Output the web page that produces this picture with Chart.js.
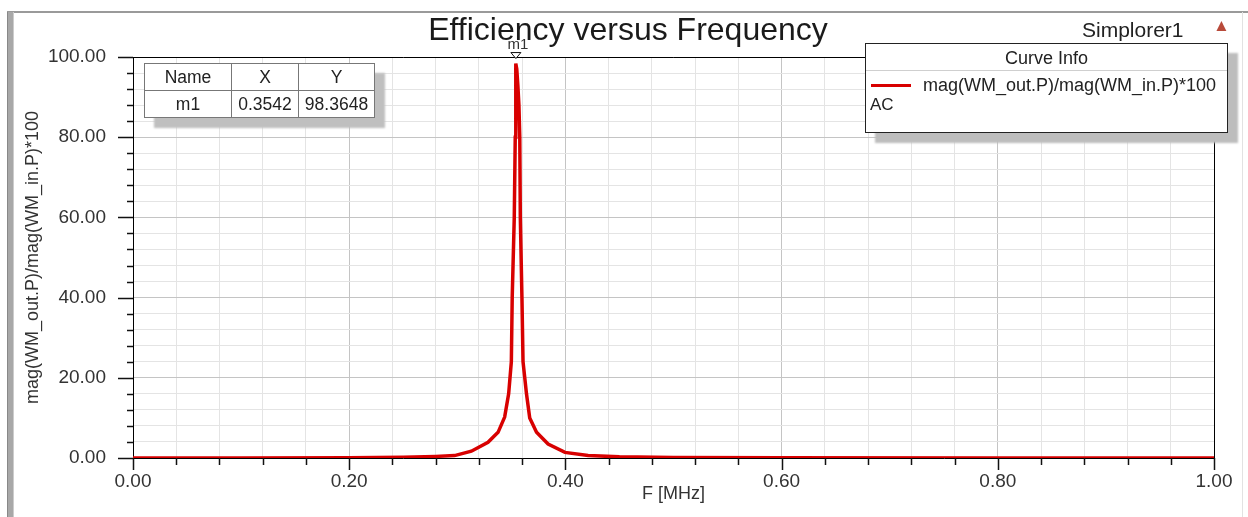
<!DOCTYPE html>
<html>
<head>
<meta charset="utf-8">
<script src="https://cdn.jsdelivr.net/npm/chart.js@4/dist/chart.umd.min.js"></script>
<style>
  html, body { margin: 0; padding: 0; background: #fff; }
  #wrap { position: relative; width: 1248px; height: 517px; overflow: hidden; font-family: "Liberation Sans", Arial, sans-serif; }
  #chart { position: absolute; left: 0; top: 0; }
  .frame-left { position: absolute; left: 7px; top: 12px; width: 5px; height: 505px; background: #a8a8a8; border-left: 1px solid #888; border-right: 1px solid #ccc; }
  .frame-top { position: absolute; left: 7px; top: 11px; width: 1241px; height: 2px; background: #9a9a9a; }
  .frame-right { position: absolute; left: 1242px; top: 12px; width: 1px; height: 505px; background: #e2e2e2; }
  .title { position: absolute; left: 328px; top: 13px; width: 600px; text-align: center; font-size: 32px; line-height: 32px; color: #1a1a1a; }
  .sim { position: absolute; left: 1082px; top: 19px; font-size: 21px; line-height: 22px; color: #222; }
  .logo { position: absolute; left: 1213px; top: 16px; font-size: 17px; color: #b84a3a; }
  table.mk { position: absolute; left: 144px; top: 63px; border-collapse: collapse; background: #fff; border: 1.5px solid #111; box-shadow: 10px 10px 2px #bfbfbf; font-size: 17.5px; color: #222; }
  table.mk td { border: 1px solid #777; height: 26px; padding: 0; text-align: center; }
  .legend { position: absolute; left: 865px; top: 43px; width: 361px; height: 88px; background: #fff; border: 1.5px solid #222; box-shadow: 10px 10px 2px #bdbdbd; color: #222; }
  .legend .hd { height: 26px; line-height: 28px; text-align: center; font-size: 18px; border-bottom: 1px solid #cfcfcf; }
  .legend .sw { position: absolute; left: 5px; top: 40px; width: 40px; height: 3px; background: #d80000; }
  .legend .tx { position: absolute; left: 57px; top: 31px; font-size: 18px; line-height: 20px; }
  .legend .ac { position: absolute; left: 4px; top: 51px; font-size: 17px; line-height: 20px; }
</style>
</head>
<body>
<div id="wrap">
  <canvas id="chart" width="1248" height="517"></canvas>
  <div class="frame-top"></div>
  <div class="frame-left"></div>
  <div class="frame-right"></div>
  <div class="title">Efficiency versus Frequency</div>
  <div class="sim">Simplorer1</div>
  <div class="logo">&#9650;</div>
  <table class="mk">
    <tr><td style="width:86px">Name</td><td style="width:66px">X</td><td style="width:75px">Y</td></tr>
    <tr><td id="mkName"></td><td id="mkX"></td><td id="mkY"></td></tr>
  </table>
  <div class="legend">
    <div class="hd">Curve Info</div>
    <div class="sw"></div>
    <div class="tx" id="legText"></div>
    <div class="ac">AC</div>
  </div>
</div>
<script>
/* data */
const freqMHz = [0, 0.10, 0.20, 0.25, 0.28, 0.2975, 0.313, 0.3284, 0.3377, 0.3438, 0.3475, 0.3500, 0.3508, 0.3527, 0.3536, 0.3540, 0.3542,
                 0.3550, 0.3560, 0.3570, 0.3578, 0.3583, 0.3598, 0.3608, 0.364, 0.367, 0.3733, 0.384, 0.3996, 0.421, 0.45, 0.50, 0.60, 0.80, 1.00];
const efficiency = [0, 0.02, 0.08, 0.2, 0.4, 0.6, 1.7, 3.9, 6.4, 10.2, 16, 24, 40, 60, 80, 90, 98.36,
                    97, 93, 88, 80, 60, 40, 24, 16, 10, 6.4, 3.5, 1.4, 0.6, 0.3, 0.15, 0.05, 0.02, 0];

const seriesName = "mag(WM_out.P)/mag(WM_in.P)*100";
const xTitle = "F [MHz]";
const markerName = "m1";
const markerX = 0.3542;
const markerY = 98.3648;

const xMajor = 0.2, xMinor = 0.04;
const yMajor = 20, yMinor = 4;

document.getElementById("mkName").textContent = markerName;
document.getElementById("mkX").textContent = markerX.toFixed(4);
document.getElementById("mkY").textContent = markerY.toFixed(4);
document.getElementById("legText").textContent = seriesName;

function isMajor(v, step) {
  const r = v / step;
  return Math.abs(r - Math.round(r)) < 1e-6;
}

/* plot frame, tick marks, marker */
const decor = {
  id: "decor",
  beforeDatasetsDraw(chart) {
    const { ctx, chartArea: a, scales: { x, y } } = chart;
    ctx.save();
    ctx.strokeStyle = "#000";
    ctx.lineWidth = 1;
    ctx.beginPath();
    ctx.moveTo(a.left, a.top + 0.5);
    ctx.lineTo(a.right + 0.5, a.top + 0.5);
    ctx.lineTo(a.right + 0.5, a.bottom);
    ctx.stroke();

    ctx.strokeStyle = "#111";
    ctx.lineWidth = 1.5;
    ctx.beginPath();
    x.ticks.forEach(t => {
      const px = Math.round(x.getPixelForValue(t.value)) + 0.5;
      const len = isMajor(t.value, xMajor) ? 12 : 7;
      ctx.moveTo(px, a.bottom);
      ctx.lineTo(px, a.bottom + len);
    });
    y.ticks.forEach(t => {
      const py = Math.round(y.getPixelForValue(t.value)) + 0.5;
      const len = isMajor(t.value, yMajor) ? 15 : 6;
      ctx.moveTo(a.left - len, py);
      ctx.lineTo(a.left, py);
    });
    ctx.stroke();
    ctx.restore();
  },
  afterDatasetsDraw(chart) {
    const { ctx, scales: { x, y } } = chart;
    const mx = x.getPixelForValue(markerX);
    const my = y.getPixelForValue(markerY);
    ctx.save();
    ctx.beginPath();
    ctx.moveTo(mx, my - 5);
    ctx.lineTo(mx - 5, my - 11);
    ctx.lineTo(mx + 5, my - 11);
    ctx.closePath();
    ctx.fillStyle = "#fff";
    ctx.fill();
    ctx.strokeStyle = "#111";
    ctx.lineWidth = 1;
    ctx.stroke();
    ctx.fillStyle = "#333";
    ctx.font = "15px 'Liberation Sans', Arial, sans-serif";
    ctx.textAlign = "center";
    ctx.textBaseline = "alphabetic";
    ctx.fillText(markerName, mx + 2, my - 15);
    ctx.restore();
  }
};

new Chart(document.getElementById("chart"), {
  type: "line",
  data: {
    datasets: [{
      label: seriesName,
      data: freqMHz.map((f, i) => ({ x: f, y: efficiency[i] })),
      borderColor: "#d80000",
      borderWidth: 3.5,
      pointRadius: 0,
      tension: 0
    }]
  },
  options: {
    responsive: false,
    animation: false,
    layout: { padding: { left: 0, right: 34, top: 57, bottom: 0 } },
    plugins: { legend: { display: false }, tooltip: { enabled: false } },
    scales: {
      x: {
        type: "linear",
        min: 0,
        max: 1,
        afterFit: s => { s.height = 59; },
        border: { display: true, color: "#000", width: 1 },
        grid: {
          drawTicks: false,
          color: c => isMajor(c.tick.value, xMajor) ? "#c4c4c4" : "#e4e4e4"
        },
        ticks: {
          stepSize: xMinor,
          autoSkip: false,
          maxRotation: 0,
          padding: 12,
          color: "#333",
          font: { family: "'Liberation Sans', Arial, sans-serif", size: 19 },
          callback: v => isMajor(v, xMajor) ? v.toFixed(2) : ""
        },
        title: {
          display: true,
          text: xTitle,
          color: "#333",
          font: { family: "'Liberation Sans', Arial, sans-serif", size: 18 },
          padding: { top: 0, bottom: 12 }
        }
      },
      y: {
        min: 0,
        max: 100,
        afterFit: s => { s.width = 133; },
        border: { display: true, color: "#000", width: 1 },
        grid: {
          drawTicks: false,
          color: c => isMajor(c.tick.value, yMajor) ? "#c4c4c4" : "#e4e4e4"
        },
        ticks: {
          stepSize: yMinor,
          autoSkip: false,
          padding: 27,
          color: "#333",
          font: { family: "'Liberation Sans', Arial, sans-serif", size: 19 },
          callback: v => isMajor(v, yMajor) ? v.toFixed(2) : ""
        },
        title: {
          display: true,
          text: seriesName,
          color: "#333",
          font: { family: "'Liberation Sans', Arial, sans-serif", size: 18 },
          padding: { top: 22, bottom: 0 }
        }
      }
    }
  },
  plugins: [decor]
});
</script>
</body>
</html>
